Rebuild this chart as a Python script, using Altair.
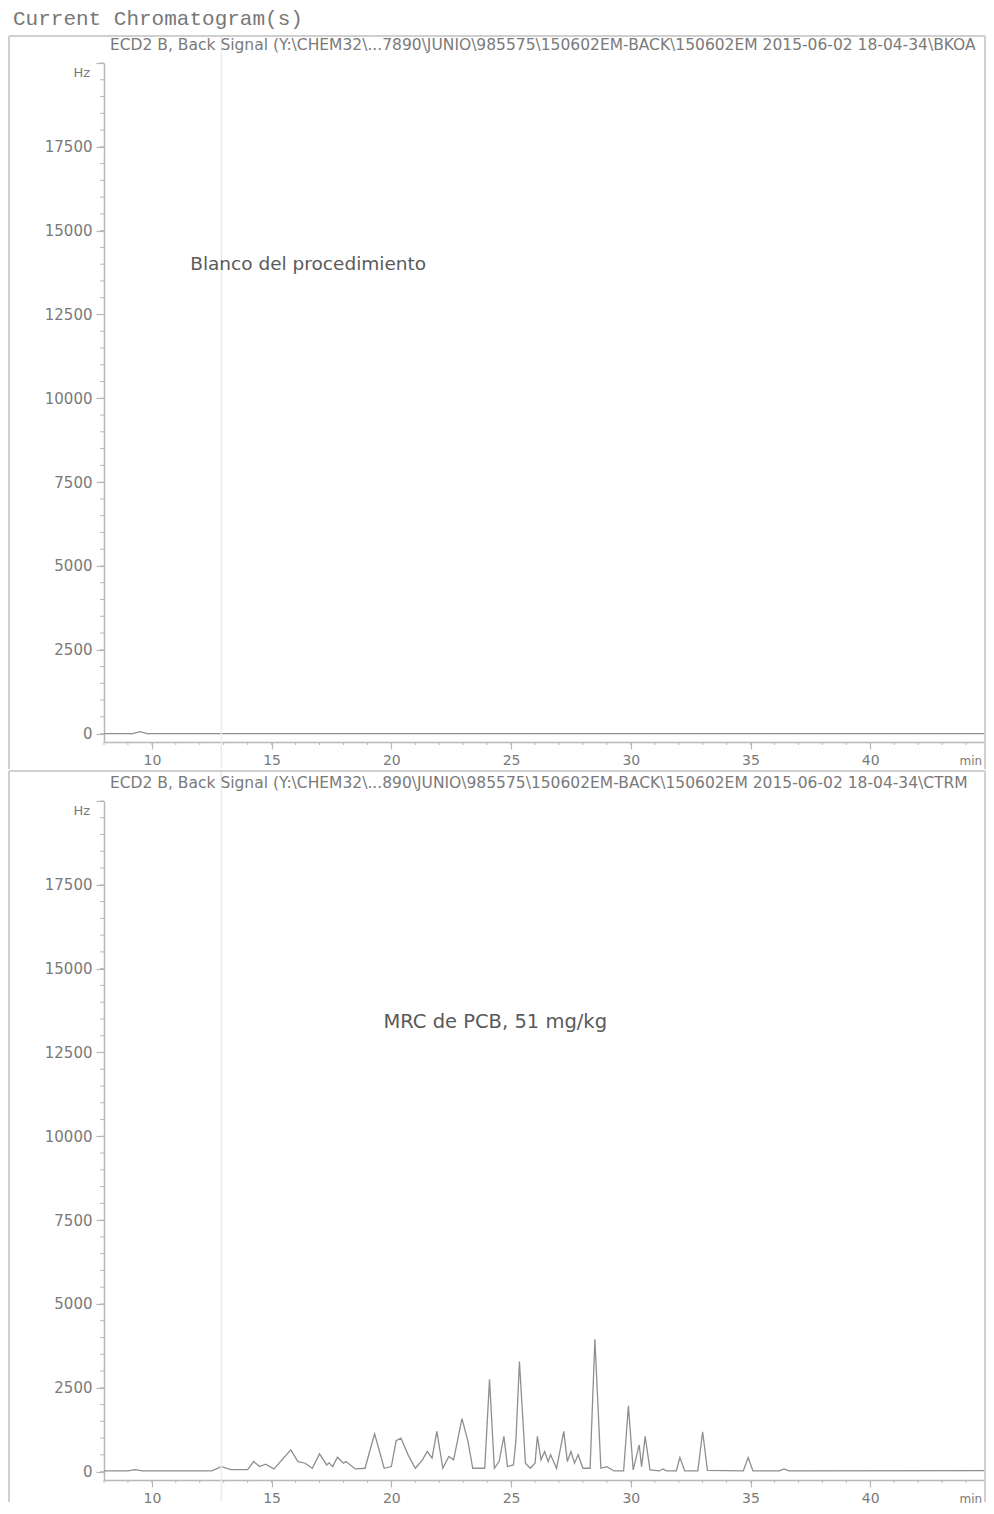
import altair as alt
import pandas as pd

# ---------------- data ----------------
page_title = "Current Chromatogram(s)"
header_top = "ECD2 B, Back Signal (Y:\\CHEM32\\...7890\\JUNIO\\985575\\150602EM-BACK\\150602EM 2015-06-02 18-04-34\\BKOADO.D)"
header_bot = "ECD2 B, Back Signal (Y:\\CHEM32\\...890\\JUNIO\\985575\\150602EM-BACK\\150602EM 2015-06-02 18-04-34\\CTRMRC.D)"
note_top = "Blanco del procedimiento"
note_bot = "MRC de PCB, 51 mg/kg"

# blank run: flat baseline with one tiny bump
top_t = [8.0, 9.2, 9.5, 9.8, 44.75]
top_v = [0, 0, 60, 0, 0]

# reference material run (retention time in min, signal in Hz)
bot_t = [8.0, 9.0, 9.3, 9.6, 12.5, 12.9, 13.3, 14.0, 14.25, 14.5,
         14.75, 15.1, 15.8, 16.1, 16.4, 16.7, 17.0, 17.3, 17.4, 17.55,
         17.75, 18.0, 18.1, 18.5, 18.9, 19.3, 19.7, 20.0, 20.2, 20.4,
         20.7, 21.0, 21.3, 21.5, 21.7, 21.9, 22.15, 22.4, 22.6, 22.95,
         23.2, 23.4, 23.9, 24.1, 24.3, 24.5, 24.7, 24.85, 25.1, 25.2,
         25.35, 25.6, 25.8, 26.0, 26.1, 26.25, 26.4, 26.55, 26.65, 26.9,
         27.2, 27.35, 27.5, 27.65, 27.8, 28.0, 28.3, 28.5, 28.75, 29.0,
         29.3, 29.7, 29.9, 30.1, 30.35, 30.45, 30.6, 30.8, 31.2, 31.33,
         31.5, 31.9, 32.05, 32.25, 32.8, 33.0, 33.2, 34.7, 34.9, 35.1,
         36.2, 36.4, 36.6, 44.75]
bot_v = [20, 20, 60, 20, 20, 150, 60, 60, 300, 150,
         220, 80, 650, 300, 250, 100, 530, 200, 260, 150,
         430, 250, 300, 80, 100, 1130, 100, 150, 920, 1000,
         500, 100, 350, 600, 400, 1200, 100, 450, 350, 1580,
         900, 100, 100, 2750, 100, 300, 1050, 150, 200, 900,
         3280, 250, 100, 250, 1050, 350, 600, 300, 500, 100,
         1200, 300, 600, 250, 500, 100, 100, 3950, 100, 150,
         20, 20, 1960, 50, 800, 150, 1050, 50, 20, 80,
         20, 20, 420, 20, 20, 1190, 40, 20, 420, 20,
         20, 80, 20, 30]

x_major = [10, 15, 20, 25, 30, 35, 40]
x_minor = list(range(8, 45))
y_major = [0, 2500, 5000, 7500, 10000, 12500, 15000, 17500, 20000]
y_minor = list(range(0, 20001, 500))
x_domain = [8, 44.75]
y_domain = [-250, 20000]

# ---------------- styling ----------------
W, H = 880, 679
LINE = "#8f8f8f"
AXC = "#b8b8b8"
TXT = "#7a7a7a"
FRAME = "#cfcfcf"
FONT = "DejaVu Sans"
one = pd.DataFrame({"k": [0]})

xs = alt.Scale(domain=x_domain, nice=False, zero=False)
ys = alt.Scale(domain=y_domain, nice=False, zero=False)
X_AX = alt.Axis(values=x_major, title=None, grid=False, tickSize=7, labelPadding=4,
                domainColor=AXC, domainWidth=1.5, tickColor=AXC, tickWidth=1.2,
                labelColor=TXT, labelFont=FONT, labelFontSize=14)
Y_AX = alt.Axis(values=y_major, title=None, grid=False, tickSize=8, labelPadding=4,
                labelExpr="datum.value == 20000 ? '' : datum.value",
                domainColor=AXC, domainWidth=1.5, tickColor=AXC, tickWidth=1.2,
                labelColor=TXT, labelFont=FONT, labelFontSize=15)


def XE():
    return alt.X("t:Q", scale=xs, axis=X_AX)


def YE():
    return alt.Y("v:Q", scale=ys, axis=Y_AX)


def panel(t, v, header, note, note_t, note_v, note_size, first):
    df = pd.DataFrame({"t": t, "v": v})
    line = alt.Chart(df).mark_line(color=LINE, strokeWidth=1.3, clip=True).encode(
        x=XE(), y=YE())
    mx = alt.Chart(pd.DataFrame({"t": x_minor})).mark_rule(color=AXC, strokeWidth=1).encode(
        x=XE(), y=alt.value(H), y2=alt.value(H + 3))
    my = alt.Chart(pd.DataFrame({"v": y_minor})).mark_rule(color=AXC, strokeWidth=1).encode(
        y=YE(), x=alt.value(-4), x2=alt.value(0))
    hz = alt.Chart(pd.DataFrame({"s": ["Hz"]})).mark_text(
        align="right", baseline="middle", font=FONT, fontSize=13, color=TXT).encode(
        text="s:N", x=alt.value(-14), y=alt.value(10))
    mn = alt.Chart(pd.DataFrame({"t": [44.2], "s": ["min"]})).mark_text(
        align="center", baseline="middle", font=FONT, fontSize=12, color=TXT).encode(
        x=XE(), text="s:N", y=alt.value(H + 19))
    hd = alt.Chart(pd.DataFrame({"s": [header]})).mark_text(
        align="left", baseline="middle", font=FONT, fontSize=15.5, color=TXT,
        limit=873, ellipsis=" ").encode(
        text="s:N", x=alt.value(6), y=alt.value(-18))
    nt = alt.Chart(pd.DataFrame({"t": [note_t], "v": [note_v], "s": [note]})).mark_text(
        align="left", baseline="middle", font=FONT, fontSize=note_size, color="#5a5a5a").encode(
        x=XE(), y=YE(), text="s:N")
    if first:
        top = -27
        bottom = H + 27
    else:
        top = -30
        bottom = H + 22
    fold = alt.Chart(pd.DataFrame({"t": [12.9]})).mark_rule(color="#ececec", strokeWidth=1.5).encode(
        x=XE(), y=alt.value(top), y2=alt.value(bottom))
    layers = [line, fold, mx, my, hz, mn, hd, nt]
    if first:
        ttl = alt.Chart(pd.DataFrame({"s": [page_title]})).mark_text(
            align="left", baseline="middle", font="Liberation Mono", fontSize=21,
            color="#777777").encode(text="s:N", x=alt.value(-91), y=alt.value(-44))
        layers.append(ttl)
    layers += [
        alt.Chart(one).mark_rule(color=FRAME, strokeWidth=2).encode(
            x=alt.value(-95), x2=alt.value(881), y=alt.value(top)),
        alt.Chart(one).mark_rule(color=FRAME, strokeWidth=2).encode(
            x=alt.value(-95), y=alt.value(top), y2=alt.value(bottom)),
        alt.Chart(one).mark_rule(color=FRAME, strokeWidth=2).encode(
            x=alt.value(881), y=alt.value(top), y2=alt.value(bottom)),
    ]
    return alt.layer(*layers).properties(width=W, height=H)


top_panel = panel(top_t, top_v, header_top, note_top, 11.6, 14000, 18.5, True)
bot_panel = panel(bot_t, bot_v, header_bot, note_bot, 19.67, 13400, 19.5, False)

chart = alt.vconcat(top_panel, bot_panel, spacing=0).properties(
    padding={"left": 0, "top": 0, "right": 0, "bottom": 0}
).configure_view(stroke=None).configure_concat(spacing=0)

chart.save("out.html", embed_options={"renderer": "svg", "actions": False})
